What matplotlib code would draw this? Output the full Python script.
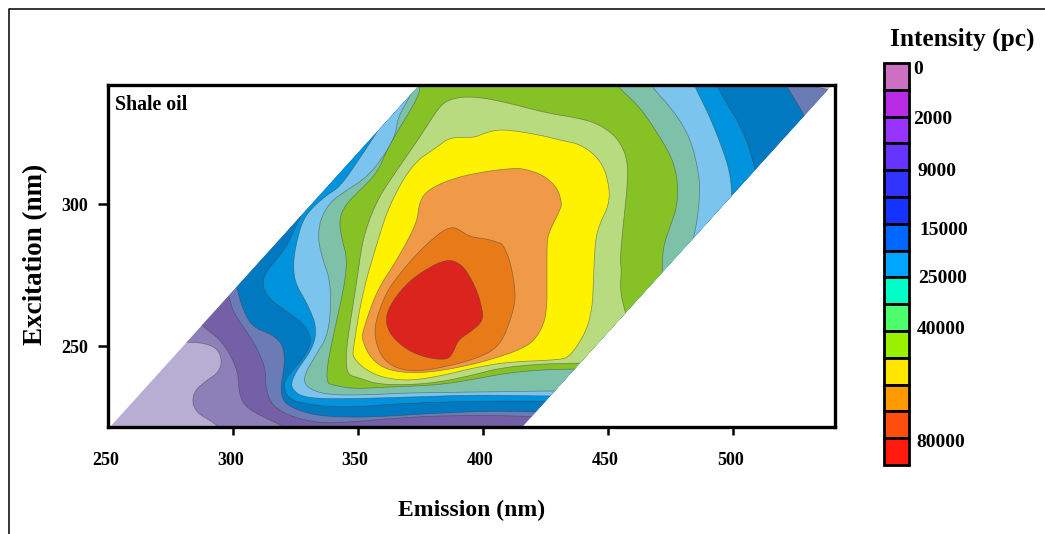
import numpy as np
import matplotlib
matplotlib.use('Agg')
import matplotlib.pyplot as plt
from matplotlib.lines import Line2D
from matplotlib.patches import Polygon
from matplotlib.transforms import ScaledTranslation

plt.rcParams['font.family'] = ['Liberation Serif', 'DejaVu Serif']
plt.rcParams['font.weight'] = 'bold'

# scan area covered by the map (emission, excitation)
scan_em = [250.8, 374.6, 539.6, 415.6]
scan_ex = [221.5, 341.9, 341.9, 221.5]

# contour outlines, lowest level first
level1_em = [272, 281.6, 288, 293.6, 295.6, 294.4, 289.6, 284.8, 283.6, 285.6, 292, 295.6, 296, 600, 600, 260]
level1_ex = [251.5, 251.4, 251.1, 249.3, 245.1, 240.8, 238.0, 234.5, 230.3, 226.4, 223.2, 220.4, 215, 215, 350, 350]
level2_em = [284, 290, 294.8, 299.6, 302, 302, 302.8, 305.6, 312, 323.6, 325, 600, 600, 260]
level2_ex = [260, 255.5, 252.3, 246.0, 240.1, 238.0, 232.0, 228.2, 225.0, 220.4, 215, 215, 350, 350]
level3_em = [296.5, 298.4, 300, 305.6, 309.6, 313.2, 312.8, 314.8, 321.6, 332, 342.8, 369.6, 396, 412, 424.8, 600, 600, 260]
level3_ex = [274, 267.6, 262.0, 254.9, 249.3, 241.6, 237.0, 229.9, 225.7, 223.2, 222.9, 225.0, 225.7, 225.4, 225.0, 225, 350, 350]
level4_em = [298, 301.6, 303.6, 307.6, 316, 320, 320.8, 318.8, 320.8, 332, 342.8, 356, 382.8, 402.8, 420, 450, 534, 528.8, 521.6, 520.4, 520, 270]
level4_ex = [280, 270.4, 263.7, 256.7, 253.9, 250.4, 244.0, 234.5, 229.2, 225.7, 225.0, 225.0, 226.4, 227.1, 226.8, 226.8, 320, 331.0, 341.2, 343.6, 350, 350]
level5_em = [332, 326.4, 320.8, 313.6, 311.6, 313.6, 321.6, 328, 331.6, 329.6, 324, 320, 321.6, 326.8, 342.8, 369.6, 396, 424, 445, 512, 508.8, 506, 501.6, 493.6, 492.8, 490, 300]
level5_ex = [305, 294.4, 283.8, 276.8, 272.2, 267.2, 262.0, 258.1, 252.8, 247.5, 241.6, 237.0, 232.0, 229.9, 228.2, 229.9, 230.6, 230.6, 230.6, 302, 312.3, 321.5, 329.6, 341.2, 343.6, 350, 350]
level6_em = [362, 357.6, 350.8, 342.8, 337.6, 331.6, 328, 325.6, 324, 324.8, 329.6, 333.6, 332, 325.6, 323.2, 324, 328, 340, 369.6, 396, 426, 445, 499.5, 499.6, 498.8, 496, 490.8, 484.8, 484, 480, 340]
level6_ex = [332, 325.3, 316.2, 306.0, 303.2, 298.6, 294.4, 287.3, 279.2, 272.2, 265.1, 256.7, 249.3, 241.6, 237.0, 234.5, 232.0, 231.3, 232.0, 232.8, 232.4, 232.4, 292, 303.2, 310.9, 319.0, 330.6, 341.2, 343.6, 350, 350]
level7_em = [373, 370, 366, 364.8, 360, 353.6, 345.6, 338.8, 334.8, 334, 336, 338.8, 339.2, 337.6, 333.6, 328, 329.6, 337.6, 353.6, 369.6, 396, 427.6, 445, 481, 484.8, 486.8, 486.4, 482.8, 476, 467.6, 466.8, 465, 360]
level7_ex = [342, 336.6, 330.6, 323.6, 316.5, 309.5, 304.9, 300.7, 294.4, 287.3, 280.3, 273.2, 262.7, 253.2, 247.5, 239.1, 235.2, 232.8, 232.8, 233.5, 233.8, 234.2, 234.2, 280, 289.1, 302.4, 310.9, 323.6, 333.1, 341.2, 343.6, 350, 350]
level8_em = [372, 375.6, 371.6, 366.8, 361.6, 357.6, 350.8, 344.8, 342.4, 343.6, 345.6, 344.8, 340, 337.6, 337.6, 340, 348, 362.8, 382.8, 398.8, 409.6, 422.8, 434.8, 450, 472, 471.6, 472, 474.8, 477.6, 478, 476, 470.8, 462.8, 454, 452.8, 450, 372]
level8_ex = [345, 341.2, 333.8, 327.1, 319.0, 310.9, 304.9, 299.6, 294.4, 287.3, 281.3, 272.2, 253.2, 242.6, 237.0, 236.3, 234.9, 235.6, 236.3, 238.7, 240.5, 241.6, 241.9, 241.9, 266, 276.0, 284.8, 291.9, 298.9, 307.4, 315.5, 323.6, 334.1, 341.2, 343.6, 350, 350]
level9_em = [393.6, 385.6, 381.6, 374.8, 365.6, 357.6, 352, 349.6, 345.6, 345.2, 346, 350.8, 357.6, 369.6, 382.8, 396, 406.8, 422.8, 438, 455, 461, 456.8, 454.8, 455.4, 454.8, 456, 458, 457.6, 453.6, 445.6, 436, 425.6, 405.6]
level9_ex = [338.0, 336.6, 333.1, 323.6, 312.0, 301.4, 288.4, 273.2, 251.1, 244.0, 239.8, 238.7, 236.6, 236.3, 237.3, 239.8, 242.3, 243.7, 244.0, 244.0, 250, 262.0, 269.7, 276.8, 280.3, 291.9, 308.4, 316.5, 323.6, 328.5, 330.6, 332.0, 336.6]
level10_em = [386.8, 381.6, 372, 362.8, 357.6, 351.6, 348, 348, 352, 358.8, 369.6, 382.8, 396, 409.6, 429.6, 434.8, 441.6, 443.6, 444, 444.8, 446.8, 450, 450.8, 448, 440, 430.8, 422.8, 408, 401.6, 396]
level10_ex = [323.6, 320.0, 314.4, 300.3, 286.3, 268.0, 248.6, 246.1, 242.3, 239.1, 237.7, 239.4, 242.3, 244.4, 245.1, 246.1, 255.6, 263.7, 268.7, 287.3, 293.3, 298.9, 304.9, 314.4, 320.8, 322.5, 324.3, 326.4, 325.3, 323.2]
level11_em = [413.6, 401.6, 388, 377.6, 374.4, 373.6, 365.6, 357.6, 352, 351.6, 354.8, 360, 366.8, 376, 389.6, 402.8, 417.6, 422.8, 425.6, 425.6, 425.6, 426.8, 430.8, 431.6, 429.6, 424, 418]
level11_ex = [312.7, 311.6, 309.1, 304.9, 300.3, 293.3, 280.3, 269.7, 255.6, 252.1, 246.1, 242.3, 240.8, 240.5, 242.3, 245.1, 249.6, 254.6, 261.6, 275.7, 287.3, 290.8, 297.9, 300.3, 306.0, 310.2, 312.0]
level12_em = [388, 384, 374.8, 365.6, 360.8, 356.8, 356.8, 360, 366.8, 374.8, 382.8, 396, 406.8, 412, 413.2, 410.8, 408, 406.8, 401.6, 394.8, 390.8]
level12_ex = [291.9, 290.8, 283.8, 274.3, 268.0, 258.1, 252.1, 245.1, 241.6, 241.2, 242.3, 245.1, 249.6, 261.6, 268.7, 280.3, 285.6, 286.3, 287.7, 288.4, 290.8]
level13_em = [385.6, 380, 370.8, 364, 360.8, 362.8, 369.6, 377.6, 385.6, 388, 390, 394.8, 399.6, 400, 397.6, 392.8, 388.8]
level13_ex = [280.3, 278.5, 273.2, 266.2, 259.9, 253.9, 248.6, 245.8, 245.1, 247.5, 252.1, 254.9, 258.4, 262.0, 269.7, 277.5, 279.9]

base_color = '#B8AED3'
level_colors = ['#8D7FB8', '#7360A6', '#6A7BB6', '#0079C1', '#0093DD', '#7AC4EE', '#7DC2A8',
                '#86C226', '#B9DB80', '#FFF200', '#F09A48', '#E97A18', '#DC241F']

# legend
legend_colors = ['#CC70C4', '#B82CE6', '#9933FF', '#6633FF', '#3333FF', '#1433FF', '#0066FF', '#00A5FF',
                 '#00FFC8', '#4DFF6E', '#99F000', '#FFE600', '#FF9900', '#FF4D0D', '#FF1A0D']
legend_labels = ['0', '2000', '9000', '15000', '25000', '40000', '80000']

x_ticks = [250, 300, 350, 400, 450, 500]
y_ticks = [250, 300]

W, H = 1045, 534


def smooth(xs, ys, passes=3):
    # corner cutting, keeps the outlines rounded like the original contours
    pts = np.column_stack([xs, ys])
    for _ in range(passes):
        nxt = np.roll(pts, -1, axis=0)
        pts = np.column_stack([0.75 * pts + 0.25 * nxt, 0.25 * pts + 0.75 * nxt]).reshape(-1, 2)
    return pts


def main():
    fig = plt.figure(figsize=(W / 100, H / 100), dpi=100)
    ax = fig.add_axes([108 / W, 1 - 427 / H, 727 / W, 342 / H])

    scan = Polygon(np.column_stack([scan_em, scan_ex]), closed=True, facecolor=base_color, edgecolor='none', zorder=1)
    ax.add_patch(scan)

    outlines = [
        (level1_em, level1_ex), (level2_em, level2_ex), (level3_em, level3_ex), (level4_em, level4_ex),
        (level5_em, level5_ex), (level6_em, level6_ex), (level7_em, level7_ex), (level8_em, level8_ex),
        (level9_em, level9_ex), (level10_em, level10_ex), (level11_em, level11_ex), (level12_em, level12_ex),
        (level13_em, level13_ex),
    ]
    for i, (em, ex) in enumerate(outlines):
        poly = Polygon(smooth(em, ex), closed=True, facecolor=level_colors[i], edgecolor=(0.25, 0.25, 0.25, 0.55),
                       linewidth=0.5, zorder=1.1 + i * 0.01)
        ax.add_patch(poly)
        poly.set_clip_path(scan)

    ax.set_xlim(250, 540.8)
    ax.set_ylim(221.5, 341.9)
    ax.set_xticks(x_ticks)
    ax.set_yticks(y_ticks)
    ax.tick_params(axis='x', length=6, width=1.8, pad=12, labelsize=13)
    ax.tick_params(axis='y', length=7, width=1.8, pad=7, labelsize=13)
    ax.xaxis.get_major_ticks()[0].tick1line.set_visible(False)
    for label in ax.get_xticklabels():
        label.set_transform(label.get_transform() + ScaledTranslation(-2 / 72, 0, fig.dpi_scale_trans))
    for spine in ax.spines.values():
        spine.set_linewidth(2.4)

    fig.text(115 / W, 1 - 105 / H, 'Shale oil', fontsize=14.3, va='center', ha='left')
    fig.text(472 / W, 1 - 510 / H, 'Emission (nm)', fontsize=17, va='center', ha='center')
    fig.text(36 / W, 1 - 254 / H, 'Excitation (nm)', fontsize=19.5, va='center', ha='center', rotation=90)
    fig.text(962.5 / W, 1 - 39 / H, 'Intensity (pc)', fontsize=18.3, va='center', ha='center')

    # colour key
    key = fig.add_axes([883.5 / W, 1 - 465 / H, 25 / W, 402 / H])
    key.bar(np.zeros(len(legend_colors)), np.ones(len(legend_colors)), bottom=np.arange(len(legend_colors)),
            width=1, color=legend_colors, edgecolor='black', linewidth=2.0, clip_on=False)
    key.set_xlim(-0.5, 0.5)
    key.set_ylim(len(legend_colors), 0)
    key.axis('off')

    label_x = [913, 913, 918, 919, 918, 917, 916]
    label_y = [70, 119.5, 172, 230.5, 278.5, 330, 442.5]
    for text, x, y in zip(legend_labels, label_x, label_y):
        fig.text(x / W, 1 - y / H, text, fontsize=14, va='center', ha='left')

    # outer frame, open to the right and bottom
    fig.add_artist(Line2D([9 / W, 9 / W, 1], [0, 1 - 9 / H, 1 - 9 / H], color='black', linewidth=1.1,
                          transform=fig.transFigure))

    fig.savefig('out.png', dpi=100)


if __name__ == '__main__':
    main()
